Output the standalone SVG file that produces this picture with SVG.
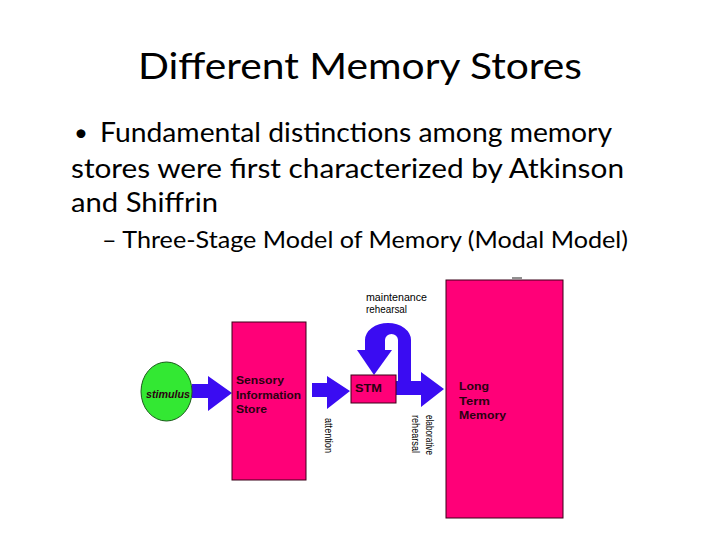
<svg xmlns="http://www.w3.org/2000/svg" width="720" height="540" viewBox="0 0 720 540">
<style>
.slide{font-family:Lato,"Open Sans","Liberation Sans",sans-serif;fill:#000}
.lbl{font-family:"Liberation Sans",Arial,sans-serif;font-weight:bold;font-size:11px;fill:#2a0010}
.sm{font-family:"Liberation Sans",Arial,sans-serif;font-size:10px;fill:#000}
.box{fill:#ff0078;stroke:#3a0018;stroke-width:1}
.arr{fill:#3a0cf2}
</style>
<rect width="720" height="540" fill="#fff"/>
<text class="slide" x="138" y="79" font-size="37" textLength="444" lengthAdjust="spacingAndGlyphs">Different Memory Stores</text>
<text class="slide" x="74" y="141" font-size="24">•</text>
<text class="slide" x="100" y="142" font-size="27" textLength="512" lengthAdjust="spacingAndGlyphs">Fundamental distinctions among memory</text>
<text class="slide" x="71" y="178" font-size="27" textLength="553" lengthAdjust="spacingAndGlyphs">stores were first characterized by Atkinson</text>
<text class="slide" x="71" y="212" font-size="27" textLength="147" lengthAdjust="spacingAndGlyphs">and Shiffrin</text>
<text class="slide" x="102" y="248" font-size="23" textLength="526" lengthAdjust="spacingAndGlyphs">– Three-Stage Model of Memory (Modal Model)</text>

<g id="connectors">
<path class="arr" d="M192 384 H208 V376 L232 393 L208 411 V398 H192 Z"/>
<path class="arr" d="M312 383 H327 V376 L350 391 L327 409 V397 H312 Z"/>
<path class="arr" d="M396 381 H421 V372 L444 389 L421 407 V395 H396 Z"/>
<path class="arr" d="M365 350 V340 A23 17 0 0 1 411 340 V395 H398 V340 A6.5 6 0 0 0 385 340 V350 Z"/>
<path class="arr" d="M357 350 H392 L374 375 Z"/>
</g>

<g id="stimulus">
<ellipse cx="166.5" cy="391.5" rx="25.5" ry="29.5" fill="#33e833" stroke="#1a5a1a" stroke-width="1"/>
<text class="lbl" x="146" y="398" font-style="italic" textLength="44" lengthAdjust="spacingAndGlyphs" fill="#0a2a0a">stimulus</text>
</g>

<g id="sensory">
<rect class="box" x="232" y="322" width="74" height="158"/>
<text class="lbl" x="236" y="384" textLength="48" lengthAdjust="spacingAndGlyphs">Sensory</text>
<text class="lbl" x="236" y="399" textLength="65" lengthAdjust="spacingAndGlyphs">Information</text>
<text class="lbl" x="236" y="413" textLength="31" lengthAdjust="spacingAndGlyphs">Store</text>
</g>

<g id="stm">
<rect class="box" x="351" y="375" width="45" height="28"/>
<text class="lbl" x="355" y="392" font-size="12" textLength="27" lengthAdjust="spacingAndGlyphs">STM</text>
</g>

<g id="ltm">
<rect class="box" x="446" y="280" width="117" height="238"/>
<line x1="512" y1="278" x2="522" y2="278" stroke="#222" stroke-width="1"/>
<text class="lbl" x="459" y="390" textLength="30" lengthAdjust="spacingAndGlyphs">Long</text>
<text class="lbl" x="459" y="405" textLength="31" lengthAdjust="spacingAndGlyphs">Term</text>
<text class="lbl" x="459" y="419" textLength="47" lengthAdjust="spacingAndGlyphs">Memory</text>
</g>

<g id="labels">
<text class="sm" x="366" y="301" textLength="61" lengthAdjust="spacingAndGlyphs">maintenance</text>
<text class="sm" x="366" y="313" textLength="41" lengthAdjust="spacingAndGlyphs">rehearsal</text>
<text class="sm" transform="translate(325 418) rotate(90)" textLength="35" lengthAdjust="spacingAndGlyphs">attention</text>
<text class="sm" transform="translate(426 415) rotate(90)" textLength="40" lengthAdjust="spacingAndGlyphs">elaborative</text>
<text class="sm" transform="translate(412 415) rotate(90)" textLength="38" lengthAdjust="spacingAndGlyphs">rehearsal</text>
</g>
</svg>
